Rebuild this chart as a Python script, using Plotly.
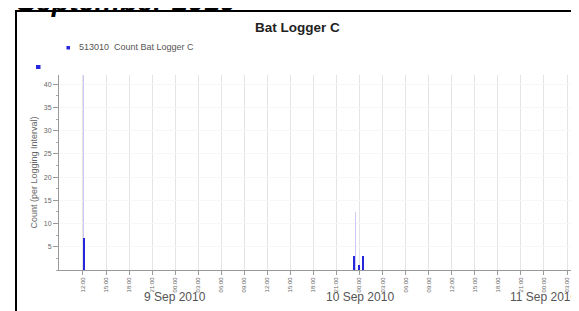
import plotly.graph_objects as go

# ---- data ----
bar_times = ["2010-09-08 12:08", "2010-09-09 23:15", "2010-09-10 00:00", "2010-09-10 00:32"]
bar_counts = [7, 3, 1, 3]
faint_times = ["2010-09-08 12:05", "2010-09-09 23:27"]
faint_counts = [44, 12.5]

tick_vals = [
    "2010-09-08 12:00", "2010-09-08 15:00", "2010-09-08 18:00", "2010-09-08 21:00",
    "2010-09-09 00:00", "2010-09-09 03:00", "2010-09-09 06:00", "2010-09-09 09:00",
    "2010-09-09 12:00", "2010-09-09 15:00", "2010-09-09 18:00", "2010-09-09 21:00",
    "2010-09-10 00:00", "2010-09-10 03:00", "2010-09-10 06:00", "2010-09-10 09:00",
    "2010-09-10 12:00", "2010-09-10 15:00", "2010-09-10 18:00", "2010-09-10 21:00",
    "2010-09-11 00:00", "2010-09-11 03:00",
]
tick_text = [t[-5:] for t in tick_vals]
date_vals = ["2010-09-09 00:00", "2010-09-10 00:00", "2010-09-11 00:00"]
date_text = ["9 Sep 2010", "10 Sep 2010", "11 Sep 2010"]
y_ticks = [5, 10, 15, 20, 25, 30, 35, 40]

BLUE = "#2626dc"
GRAY = "#666666"
FONT = "Liberation Sans, Arial, sans-serif"

fig = go.Figure()
fig.add_trace(go.Bar(x=faint_times, y=faint_counts, width=[8 * 60 * 1000] * len(faint_times),
                     marker=dict(color="rgba(150,150,235,0.5)", line=dict(width=0)),
                     showlegend=False))
fig.add_trace(go.Bar(x=bar_times, y=bar_counts, width=[12 * 60 * 1000] * len(bar_times),
                     marker=dict(color=BLUE, line=dict(width=0)),
                     name="513010  Count Bat Logger C", showlegend=False))

# page has an 8px body margin, so figure coords = page coords - 8
OFF = 8
W, H = 571, 303
L, R, T, B = 51, 7, 67, 41
pw, ph = W - L - R, H - T - B


def px(x):
    return (x - OFF - L) / pw


def py(y):
    return (H - B - (y - OFF)) / ph


annotations = []
for v, t in zip(date_vals, date_text):
    annotations.append(dict(x=v, xref="x", y=py(297), yref="paper", text=t, showarrow=False,
                            font=dict(family=FONT, size=12, color="#555555"),
                            xanchor="center", yanchor="middle"))
annotations += [
    dict(x=px(297.5), y=py(27), xref="paper", yref="paper", text="<b>Bat Logger C</b>",
         showarrow=False, font=dict(family=FONT, size=13.5, color="#222222"),
         xanchor="center", yanchor="middle"),
    dict(x=px(77), y=py(47), xref="paper", yref="paper", text="513010  Count Bat Logger C",
         showarrow=False, font=dict(family=FONT, size=9, color="#555555"),
         xanchor="left", yanchor="middle"),
    dict(x=px(15), y=py(19), xref="paper", yref="paper", text="<b><i>September 2010</i></b>",
         showarrow=False, font=dict(family=FONT, size=28.5, color="#000000"),
         xanchor="left", yanchor="bottom"),
]

shapes = [
    dict(type="rect", xref="paper", yref="paper", x0=px(66.5), x1=px(70), y0=py(49.5), y1=py(46),
         fillcolor=BLUE, line=dict(width=0)),
    dict(type="rect", xref="paper", yref="paper", x0=px(36), x1=px(40.5), y0=py(69), y1=py(65),
         fillcolor=BLUE, line=dict(width=0)),
    dict(type="line", xref="paper", yref="paper", x0=px(16), x1=px(16), y0=py(10), y1=py(315),
         line=dict(color="black", width=2)),
    dict(type="line", xref="paper", yref="paper", x0=px(15), x1=px(590), y0=py(11), y1=py(11),
         line=dict(color="black", width=2)),
]

fig.update_layout(
    width=W, height=H,
    margin=dict(l=L, r=R, t=T, b=B, pad=0, autoexpand=False),
    paper_bgcolor="white", plot_bgcolor="white",
    bargap=0, barmode="overlay",
    showlegend=False,
    annotations=annotations,
    shapes=shapes,
    font=dict(family=FONT, color=GRAY),
)
fig.update_xaxes(
    type="date", automargin=False,
    range=["2010-09-08 08:53", "2010-09-11 03:39"],
    tickmode="array", tickvals=tick_vals, ticktext=tick_text,
    tickangle=-90, tickfont=dict(size=6, color=GRAY),
    ticks="outside", ticklen=4, tickcolor="#999999",
    showgrid=True, gridcolor="#e4e4e4", gridwidth=1,
    showline=True, linecolor="#999999", linewidth=1,
    zeroline=False,
)
fig.update_yaxes(
    automargin=False,
    range=[0, 42],
    tickmode="array", tickvals=y_ticks,
    tickfont=dict(size=7, color=GRAY),
    ticks="outside", ticklen=5, tickcolor="#999999",
    minor=dict(dtick=2.5, ticks="outside", ticklen=2, tickcolor="#aaaaaa", showgrid=False),
    showgrid=True, gridcolor="#f7f7f7",
    showline=True, linecolor="#999999", linewidth=1,
    zeroline=False,
    title=dict(text="Count (per Logging Interval)", font=dict(size=9, color=GRAY), standoff=4),
)

fig.write_html("out.html")
